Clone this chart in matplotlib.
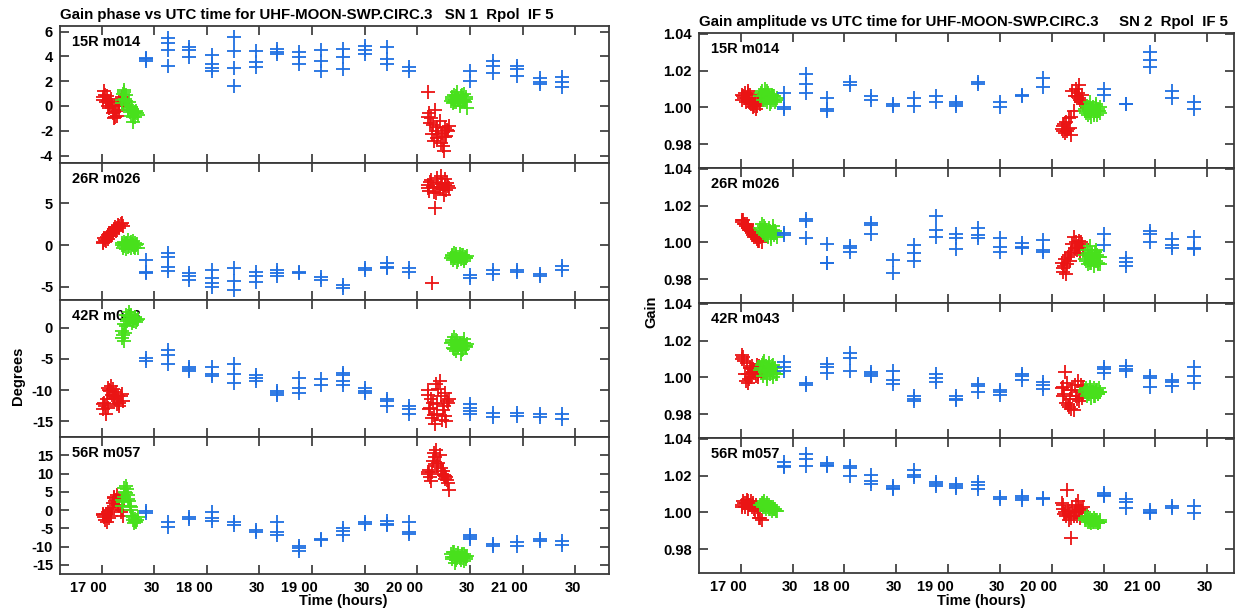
import matplotlib
matplotlib.use("Agg")
import matplotlib.pyplot as plt
from matplotlib.transforms import ScaledTranslation

plt.rcParams["font.family"] = ["Liberation Sans", "DejaVu Sans"]
plt.rcParams["font.weight"] = "bold"

# --- data -------------------------------------------------------------
antennas = ["15R m014", "26R m026", "42R m043", "56R m057"]

# scan times (hours UTC)
blue_t = [17.42, 17.63, 17.83, 18.05, 18.26, 18.47, 18.67, 18.88, 19.08,
          19.29, 19.50, 19.71, 19.92, 20.50, 20.72, 20.95, 21.16, 21.37]
red1_t = [17.01, 17.02, 17.04, 17.05, 17.06, 17.07, 17.09, 17.10,
          17.11, 17.12, 17.14, 17.15, 17.16, 17.17, 17.19, 17.20,
          17.03, 17.08, 17.13, 17.18, 17.015, 17.065, 17.115, 17.165]
green1_t = [17.19, 17.20, 17.21, 17.22, 17.23, 17.24, 17.25, 17.26,
            17.27, 17.28, 17.29, 17.30, 17.31, 17.32, 17.33, 17.35,
            17.195, 17.215, 17.235, 17.255, 17.275, 17.295, 17.315, 17.34]
red2_t = [20.10, 20.11, 20.13, 20.14, 20.15, 20.17, 20.18, 20.19,
          20.21, 20.22, 20.23, 20.25, 20.26, 20.27, 20.29, 20.30,
          20.12, 20.16, 20.20, 20.24, 20.28, 20.105, 20.185, 20.265]
green2_t = [20.32, 20.33, 20.34, 20.35, 20.36, 20.37, 20.38, 20.39,
            20.40, 20.41, 20.42, 20.43, 20.44, 20.45, 20.46, 20.47,
            20.325, 20.345, 20.365, 20.385, 20.405, 20.425, 20.445, 20.465]

# gain phase (degrees)
phase_blue = [
    [[3.9, 3.75, 3.6], [5.5, 5.1, 4.5, 3.2], [4.75, 4.5, 3.95], [4.1, 3.4, 3.1, 2.8],
     [5.6, 4.4, 3.05, 1.6], [4.4, 3.55, 3.15], [4.6, 4.35, 4.2], [4.35, 3.95, 3.4],
     [4.55, 3.6, 2.85], [4.6, 3.95, 2.95], [4.8, 4.55, 4.2], [4.75, 3.8, 3.4],
     [3.15, 2.85], [2.8, 2.05], [3.6, 3.2, 2.65], [3.2, 3.0, 2.45],
     [2.25, 1.9, 1.8], [2.3, 1.9, 1.5]],
    [[-1.8, -3.2, -3.4], [-1.0, -1.4, -2.6, -3.1], [-3.4, -3.75, -4.15], [-3.0, -4.0, -4.55, -5.0],
     [-2.8, -4.3, -5.4], [-3.2, -3.75, -4.4], [-3.0, -3.4, -3.75], [-3.2, -3.4],
     [-3.85, -4.15], [-4.85, -5.15], [-2.8, -3.0], [-2.15, -2.6, -2.8],
     [-2.75, -3.2], [-3.6, -4.0], [-3.0, -3.5], [-3.0, -3.2],
     [-3.5, -3.75], [-2.55, -2.95]],
    [[-4.8, -5.35], [-3.6, -4.4, -5.9], [-6.25, -6.6, -7.0], [-6.25, -7.45, -7.8],
     [-5.8, -7.45, -8.9], [-7.55, -8.1, -8.6], [-10.2, -10.5, -10.85], [-8.1, -9.6, -10.5],
     [-8.25, -9.15], [-7.3, -7.55, -8.6, -9.15], [-9.7, -10.1, -10.5], [-11.4, -11.7, -12.6],
     [-12.5, -13.1, -13.9], [-12.3, -12.85, -13.4, -13.8], [-13.65, -14.3], [-13.65, -14.2],
     [-13.9, -14.3], [-13.9, -14.7]],
    [[-0.3, -0.9], [-3.2, -4.6], [-1.8, -2.5], [-0.6, -2.1, -3.0],
     [-3.4, -4.1], [-5.5, -6.1], [-3.4, -6.1, -6.9], [-9.9, -10.5, -11.25],
     [-7.8, -8.2], [-5.0, -5.8, -6.9], [-3.4, -3.9], [-3.0, -3.7, -4.1],
     [-3.4, -6.1, -6.6], [-6.7, -7.3, -7.8], [-9.4, -9.9], [-8.7, -9.9],
     [-7.8, -8.5], [-8.5, -9.6]],
]
phase_red1 = [
    [0.5, 1.2, 0.3, 0.8, 0.4, -0.2, 0.6, 0.1, -0.6, -1.0, -0.4, -0.8, 0.0, -0.3, 0.7, 0.2,
     0.9, 0.2, -0.9, 0.5, 0.7, 0.0, -0.5, 0.3],
    [0.3, 0.8, 0.5, 1.0, 0.7, 1.3, 1.1, 1.6, 1.4, 1.9, 1.7, 2.1, 2.4, 2.0, 2.6, 2.3,
     0.6, 1.5, 2.2, 2.5, 0.4, 1.2, 1.8, 2.3],
    [-13.0, -12.0, -13.8, -11.5, -12.8, -10.0, -9.3, -10.8, -9.8, -11.2, -10.3, -12.3, -11.0, -12.6, -10.6, -11.8,
     -12.5, -10.1, -11.4, -11.0, -12.2, -9.6, -10.9, -12.0],
    [-1.0, -1.8, -1.2, -3.2, -0.6, -2.2, -1.5, 0.5, 2.0, 3.5, 2.8, 4.0, 1.5, 3.0, 0.0, -1.5,
     -2.6, 0.0, 2.5, -0.5, -1.4, -1.0, 3.2, 1.0],
]
phase_green1 = [
    [0.2, 1.0, 1.3, 0.6, 0.9, 0.1, -0.2, 0.3, -0.5, -0.8, -0.3, -1.3, -0.6, -0.9, -0.4, -0.7,
     0.5, 1.1, 0.4, -0.3, -0.1, -0.9, -0.5, -0.6],
    [0.0, -0.3, 0.4, 0.1, -0.5, 0.2, 0.6, -0.1, 0.3, -0.4, 0.1, 0.5, -0.2, 0.2, 0.0, -0.3,
     0.2, -0.1, 0.3, -0.2, 0.4, 0.0, -0.4, 0.1],
    [-0.5, -1.2, -2.2, -0.8, 0.3, 1.0, 1.8, 2.5, 1.3, 2.0, 0.8, 1.5, 1.1, 1.7, 0.9, 1.3,
     -1.6, 0.5, 2.0, 1.4, 1.9, 1.1, 1.6, 1.2],
    [1.0, 2.2, 3.5, 5.0, 6.5, 5.8, 4.0, 2.5, 1.2, 0.0, -1.5, -2.8, -3.5, -2.5, -3.2, -2.0,
     2.8, 6.0, 4.8, 3.0, 0.8, -2.0, -3.0, -2.6],
]
phase_red2 = [
    [1.1, -0.6, -1.0, -2.3, -1.5, -0.3, -2.0, -2.6, -1.2, -3.0, -2.2, -3.6, -1.8, -2.4, -2.0, -1.6,
     -1.4, -2.8, -2.3, -3.2, -1.9, -0.9, -1.7, -2.5],
    [7.2, 6.5, 7.8, -4.5, 7.0, 4.4, 6.2, 7.5, 6.8, 8.3, 7.3, 6.0, 7.9, 6.6, 7.1, 6.9,
     7.6, 6.4, 7.0, 6.7, 7.4, 6.9, 8.0, 7.2],
    [-10.0, -13.0, -11.5, -14.5, -12.0, -15.5, -9.0, -13.8, -8.5, -11.0, -14.8, -12.5, -10.5, -15.0, -12.0, -11.5,
     -12.8, -14.0, -9.8, -13.2, -11.8, -10.8, -12.2, -14.2],
    [10.0, 11.0, 8.0, 10.5, 13.5, 14.5, 16.5, 12.5, 15.0, 11.5, 10.0, 9.5, 8.5, 9.0, 7.5, 5.5,
     9.0, 15.5, 13.0, 10.8, 8.2, 10.5, 12.0, 9.2],
]
phase_green2 = [
    [0.4, 0.7, 0.2, 0.9, 0.5, 0.3, 1.1, 0.6, 0.0, 0.8, 0.4, 0.5, 1.0, 0.3, 0.7, -0.2,
     0.6, 0.3, 0.8, 0.5, 0.2, 0.9, 0.4, 0.6],
    [-1.5, -1.2, -1.8, -1.0, -1.6, -1.3, -2.0, -1.4, -1.1, -1.7, -1.5, -1.2, -1.9, -1.4, -1.6, -1.3,
     -1.3, -1.6, -1.1, -1.8, -1.4, -1.2, -1.7, -1.5],
    [-2.5, -2.0, -3.2, -1.5, -2.8, -3.8, -2.2, -3.0, -2.6, -4.2, -2.4, -3.4, -1.8, -2.9, -3.1, -2.7,
     -2.3, -3.5, -2.0, -3.1, -2.7, -3.6, -2.4, -3.0],
    [-12.0, -13.5, -11.5, -12.8, -14.5, -12.2, -13.0, -11.8, -12.6, -13.8, -12.3, -13.2, -11.9, -12.7, -13.4, -12.5,
     -12.9, -11.6, -13.6, -12.4, -13.1, -12.1, -14.0, -12.8],
]
phase_ylim = [(-4.6, 6.45), (-6.6, 9.85), (-17.5, 4.4), (-17.5, 20.0)]
phase_yticks = [[-4, -2, 0, 2, 4, 6], [-5, 0, 5], [-15, -10, -5, 0],
                [-15, -10, -5, 0, 5, 10, 15]]

# gain amplitude
amp_blue = [
    [[1.008, 1.000, 0.999], [1.018, 1.013, 1.008], [1.005, 0.999, 0.998], [1.014, 1.012],
     [1.006, 1.004], [1.002, 1.001], [1.005, 1.001], [1.006, 1.003],
     [1.003, 1.002, 1.001], [1.014, 1.013], [1.003, 1.000], [1.007, 1.006],
     [1.016, 1.011], [1.010, 1.007], [1.002, 1.0016], [1.030, 1.026, 1.022],
     [1.009, 1.005], [1.003, 0.999]],
    [[1.005, 1.004], [1.0125, 1.0114, 1.0025], [0.999, 0.989, 0.9888], [0.998, 0.997, 0.995],
     [1.0105, 1.0096, 1.0043], [0.9905, 0.9834], [0.9986, 0.9941, 0.9896], [1.0146, 1.0066, 1.003],
     [1.0048, 1.0025, 0.9962], [1.0079, 1.0039, 1.0025], [1.0025, 0.9977, 0.9946], [0.9998, 0.9977, 0.9971],
     [1.0013, 0.9959, 0.9946], [1.0048, 0.9986], [0.9914, 0.9891, 0.987], [1.006, 1.0048, 1.0004],
     [1.0021, 0.9986, 0.9971], [1.003, 0.9971, 0.9964]],
    [[1.0084, 1.0057, 1.0036], [0.9971, 0.9959], [1.0075, 1.0057, 1.0025], [1.0132, 1.0107, 1.0036],
     [1.003, 1.0018, 1.0007], [1.0036, 0.9986, 0.9964], [0.990, 0.9882, 0.987], [1.0018, 0.9995, 0.9977],
     [0.9896, 0.9882, 0.9875], [0.9964, 0.9954, 0.9918], [0.9932, 0.9918, 0.9905], [1.0018, 1.0007, 0.9986],
     [0.9977, 0.9959, 0.9936], [1.0054, 1.0043, 1.0025], [1.006, 1.0048, 1.0036], [1.0007, 0.9995, 0.995],
     [0.9986, 0.9977, 0.9954], [1.0054, 1.0007, 0.9971]],
    [[1.0275, 1.0254, 1.0245], [1.0316, 1.0293, 1.025], [1.0271, 1.0257, 1.025], [1.0254, 1.0239, 1.0196],
     [1.0204, 1.0173, 1.0155], [1.0146, 1.0132, 1.0125], [1.0232, 1.0204, 1.0191], [1.0168, 1.0155, 1.0146],
     [1.0155, 1.0143, 1.0132], [1.0164, 1.015, 1.0129], [1.0084, 1.0075], [1.0089, 1.0079, 1.0066],
     [1.0079, 1.0071], [1.0105, 1.0096, 1.0089], [1.0075, 1.0054, 1.0025], [1.0013, 1.0004, 0.9995],
     [1.0036, 1.0025], [1.0036, 0.9995]],
]
amp_red1 = [
    [1.004, 1.006, 1.008, 1.003, 1.005, 1.009, 1.007, 1.002, 1.004, 1.000, 1.003, 0.999, 1.001, 1.004, 1.002, 1.006,
     1.005, 1.003, 1.001, 1.005, 1.007, 1.008, 1.002, 1.004],
    [1.011, 1.012, 1.010, 1.009, 1.010, 1.008, 1.007, 1.006, 1.005, 1.006, 1.004, 1.003, 1.002, 1.001, 1.003, 1.000,
     1.010, 1.007, 1.003, 1.001, 1.012, 1.008, 1.004, 1.002],
    [1.012, 1.011, 1.002, 0.998, 1.008, 0.997, 1.005, 1.000, 1.006, 1.003, 1.004, 1.001, 1.007, 1.002, 1.005, 1.003,
     1.009, 0.999, 1.004, 1.006, 1.010, 1.002, 1.003, 1.000],
    [1.004, 1.006, 1.003, 1.005, 1.007, 1.002, 1.004, 1.006, 1.003, 1.005, 1.001, 1.004, 1.003, 1.002, 0.997, 0.996,
     1.005, 1.004, 1.002, 0.997, 1.003, 1.006, 1.004, 1.001],
]
amp_green1 = [
    [1.006, 1.009, 1.004, 1.007, 1.010, 1.005, 1.003, 1.008, 1.006, 1.002, 1.005, 1.007, 1.004, 1.006, 1.003, 1.005,
     1.008, 1.006, 1.004, 1.009, 1.005, 1.003, 1.006, 1.004],
    [1.008, 1.010, 1.006, 1.009, 1.004, 1.007, 1.005, 1.003, 1.008, 1.006, 1.002, 1.005, 1.009, 1.004, 1.006, 1.003,
     1.007, 1.005, 1.008, 1.004, 1.006, 1.003, 1.007, 1.005],
    [1.004, 1.007, 1.001, 1.009, 1.003, 1.006, 0.999, 1.005, 1.008, 1.002, 1.004, 1.006, 1.000, 1.003, 1.005, 1.002,
     1.005, 1.008, 1.003, 1.001, 1.006, 1.004, 1.007, 1.002],
    [1.004, 1.005, 1.003, 1.006, 1.004, 1.002, 1.005, 1.003, 1.004, 1.002, 1.003, 1.001, 1.003, 1.002, 1.002, 1.001,
     1.004, 1.005, 1.003, 1.004, 1.002, 1.003, 1.002, 1.001],
]
amp_red2 = [
    [0.988, 0.990, 0.986, 0.992, 0.987, 0.994, 0.989, 0.985, 0.998, 1.006, 1.010, 1.008, 1.012, 1.004, 1.007, 1.002,
     0.991, 0.988, 1.009, 1.006, 1.003, 0.987, 0.995, 1.005],
    [0.989, 0.986, 0.991, 0.983, 0.988, 0.993, 0.990, 0.995, 1.003, 0.997, 1.000, 0.998, 1.001, 0.994, 0.999, 0.996,
     0.987, 0.992, 0.999, 0.996, 1.000, 0.984, 0.994, 0.997],
    [0.994, 0.990, 1.003, 0.986, 0.997, 0.984, 0.988, 0.993, 0.982, 0.996, 0.990, 0.998, 0.987, 0.992, 0.989, 0.995,
     0.991, 0.985, 0.993, 0.988, 0.996, 0.995, 0.983, 0.990],
    [1.005, 1.002, 1.000, 0.998, 1.012, 0.996, 0.999, 0.986, 0.998, 1.000, 1.004, 1.006, 1.002, 0.997, 1.001, 1.003,
     0.999, 1.001, 1.003, 0.998, 1.002, 1.004, 0.997, 1.000],
]
amp_green2 = [
    [0.999, 0.997, 1.001, 0.996, 0.998, 1.003, 0.995, 0.999, 1.000, 0.997, 0.998, 1.002, 0.996, 0.999, 0.998, 1.000,
     0.998, 1.000, 0.997, 0.999, 0.996, 1.001, 0.998, 0.997],
    [0.993, 0.990, 0.996, 0.988, 0.992, 0.998, 0.989, 0.994, 0.991, 0.987, 0.995, 0.990, 0.993, 0.989, 0.992, 0.988,
     0.991, 0.994, 0.989, 0.993, 0.990, 0.996, 0.988, 0.992],
    [0.992, 0.994, 0.990, 0.993, 0.991, 0.995, 0.989, 0.993, 0.992, 0.994, 0.990, 0.992, 0.993, 0.991, 0.994, 0.992,
     0.993, 0.991, 0.994, 0.992, 0.990, 0.993, 0.991, 0.992],
    [0.997, 0.996, 0.998, 0.995, 0.996, 0.997, 0.994, 0.996, 0.995, 0.997, 0.996, 0.995, 0.996, 0.994, 0.995, 0.996,
     0.996, 0.997, 0.995, 0.996, 0.995, 0.996, 0.994, 0.995],
]
amp_ylim = (0.967, 1.0405)
amp_yticks = [0.98, 1.00, 1.02, 1.04]

xticks = [17.0, 17.5, 18.0, 18.5, 19.0, 19.5, 20.0, 20.5, 21.0, 21.5]
xticklabels = ["17 00", "30", "18 00", "30", "19 00", "30", "20 00", "30", "21 00", "30"]

RED = "#ea1414"
GREEN = "#48e01c"
BLUE = "#1f6fe2"
SPINE = "#3a3a3a"


def draw_panel(ax, name, blue, red1, green1, red2, green2, ylim, yticks, yfmt, xlim, bottom):
    ms, mew = 9.5, 1.3
    ax.plot(red1_t, red1, "+", color=RED, ms=ms, mew=mew, zorder=2)
    ax.plot(red2_t, red2, "+", color=RED, ms=ms, mew=mew, zorder=2)
    ax.plot(green1_t, green1, "+", color=GREEN, ms=ms, mew=mew, zorder=3)
    ax.plot(green2_t, green2, "+", color=GREEN, ms=ms, mew=mew, zorder=3)
    for t, vals in zip(blue_t, blue):
        ax.plot([t] * len(vals), vals, "+", color=BLUE, ms=ms, mew=mew, zorder=4)

    ax.set_xlim(*xlim)
    ax.set_ylim(*ylim)
    ax.set_yticks(yticks)
    ax.set_yticklabels([yfmt.format(v) for v in yticks])
    ax.set_xticks(xticks)
    ax.tick_params(direction="in", length=6.5, width=1.1, color="#222222",
                   top=True, right=True, labelsize=10.5, pad=5)
    if bottom:
        ax.set_xticklabels(xticklabels)
        shift = ScaledTranslation(0.055, 0, ax.figure.dpi_scale_trans)
        for lab in ax.get_xticklabels():
            lab.set_horizontalalignment("right")
            lab.set_transform(lab.get_transform() + shift)
    else:
        ax.set_xticklabels([])
    for s in ax.spines.values():
        s.set_color(SPINE)
        s.set_linewidth(1.3)
    ax.annotate(name, xy=(0, 1), xycoords="axes fraction", xytext=(12, -20),
                textcoords="offset pixels", ha="left", va="baseline",
                fontsize=10.5, fontweight="bold", zorder=1)


def main():
    W, H = 1236, 610
    fig = plt.figure(figsize=(W / 100, H / 100), dpi=100)

    # left column: gain phase
    lx0, lx1, ltop, lh = 60, 609, 26, 137
    for i in range(4):
        ax = fig.add_axes([lx0 / W, 1 - (ltop + lh * (i + 1)) / H, (lx1 - lx0) / W, lh / H])
        draw_panel(ax, antennas[i], phase_blue[i], phase_red1[i], phase_green1[i],
                   phase_red2[i], phase_green2[i], phase_ylim[i], phase_yticks[i],
                   "{:d}", (16.605, 21.82), i == 3)

    # right column: gain amplitude
    rx0, rx1, rtop, rh = 699, 1234, 33, 135
    for i in range(4):
        ax = fig.add_axes([rx0 / W, 1 - (rtop + rh * (i + 1)) / H, (rx1 - rx0) / W, rh / H])
        draw_panel(ax, antennas[i], amp_blue[i], amp_red1[i], amp_green1[i],
                   amp_red2[i], amp_green2[i], amp_ylim, amp_yticks,
                   "{:.2f}", (16.597, 21.758), i == 3)

    fig.text(lx0 / W, 1 - 15 / H, "Gain phase vs UTC time for UHF-MOON-SWP.CIRC.3   SN 1  Rpol  IF 5",
             ha="left", va="center", fontsize=10.8, fontweight="bold")
    fig.text(rx0 / W, 1 - 22 / H, "Gain amplitude vs UTC time for UHF-MOON-SWP.CIRC.3     SN 2  Rpol  IF 5",
             ha="left", va="center", fontsize=10.8, fontweight="bold")
    fig.text(18 / W, 1 - 376 / H, "Degrees", rotation=90, ha="center", va="center",
             fontsize=10.5, fontweight="bold")
    fig.text(651 / W, 1 - 312 / H, "Gain", rotation=90, ha="center", va="center",
             fontsize=10.5, fontweight="bold")
    fig.text(343 / W, 1 - 601 / H, "Time (hours)", ha="center", va="center",
             fontsize=10.5, fontweight="bold")
    fig.text(981 / W, 1 - 601 / H, "Time (hours)", ha="center", va="center",
             fontsize=10.5, fontweight="bold")

    fig.savefig("out.png", dpi=100)
    plt.close(fig)


if __name__ == "__main__":
    main()
